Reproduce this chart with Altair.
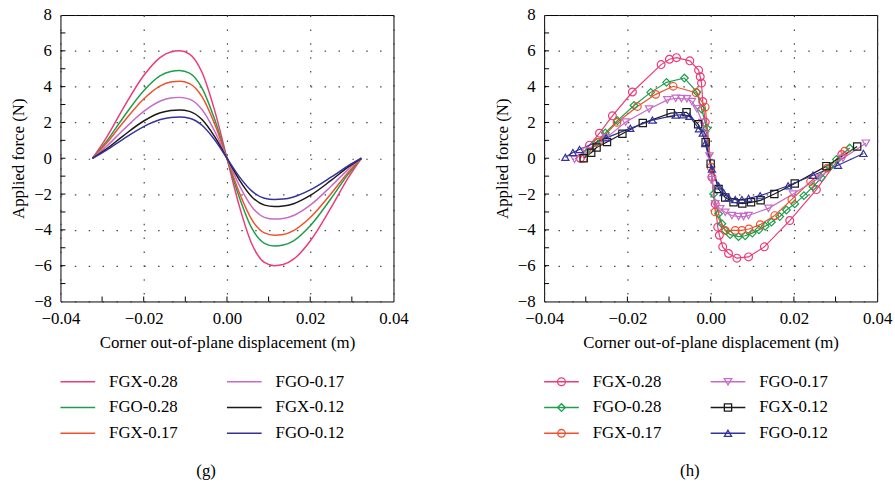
import altair as alt
import pandas as pd

FONT = "Liberation Serif"

series = ["FGX-0.28", "FGO-0.28", "FGX-0.17", "FGO-0.17", "FGX-0.12", "FGO-0.12"]
colors = ["#ec3b78", "#1d9e4b", "#f0502c", "#c56cc6", "#1a1a1a", "#33339a"]
shapes = ["circle", "diamond", "circle", "triangle-down", "square", "triangle-up"]
sizes = [62, 52, 40, 50, 30, 55]

# ---------------- panel (g): smooth curves ----------------
g_x = [-0.0323, -0.029, -0.025, -0.020, -0.016, -0.0135, -0.0114, -0.009, -0.006, -0.003, 0.0,
       0.003, 0.006, 0.009, 0.0114, 0.0135, 0.016, 0.020, 0.025, 0.029, 0.0323]
g_fgx028 = [0, 1.14, 2.76, 4.62, 5.64, 5.94, 6.0, 5.82, 4.8, 2.7, 0,
            -2.7, -4.8, -5.82, -6.0, -5.94, -5.64, -4.62, -2.76, -1.14, 0]
g_fgo028 = [0, 0.93, 2.25, 3.77, 4.61, 4.85, 4.9, 4.75, 3.92, 2.2, 0,
            -2.2, -3.92, -4.75, -4.9, -4.85, -4.61, -3.77, -2.25, -0.93, 0]
g_fgx017 = [0, 0.82, 1.98, 3.31, 4.04, 4.26, 4.3, 4.17, 3.44, 1.94, 0,
            -1.94, -3.44, -4.17, -4.3, -4.26, -4.04, -3.31, -1.98, -0.82, 0]
g_fgo017 = [0, 0.65, 1.56, 2.62, 3.2, 3.37, 3.4, 3.3, 2.72, 1.53, 0,
            -1.53, -2.72, -3.3, -3.4, -3.37, -3.2, -2.62, -1.56, -0.65, 0]
g_fgx012 = [0, 0.51, 1.24, 2.08, 2.54, 2.67, 2.7, 2.62, 2.16, 1.22, 0,
            -1.22, -2.16, -2.62, -2.7, -2.67, -2.54, -2.08, -1.24, -0.51, 0]
g_fgo012 = [0, 0.44, 1.06, 1.77, 2.16, 2.28, 2.3, 2.23, 1.84, 1.04, 0,
            -1.04, -1.84, -2.23, -2.3, -2.28, -2.16, -1.77, -1.06, -0.44, 0]

# ---------------- panel (h): measured points ----------------
h_fgx028_x = [-0.0313, -0.0291, -0.0267, -0.0236, -0.0188, -0.0119, -0.0099, -0.0082, -0.0050, -0.0029,
              -0.0025, -0.0022, -0.0019, -0.0013, 0.0003, 0.0011, 0.0017, 0.0021, 0.0029, 0.0043,
              0.0063, 0.0091, 0.0129, 0.0190, 0.0254, 0.0315]
h_fgx028_y = [0.0, 0.73, 1.40, 2.37, 3.70, 5.23, 5.53, 5.62, 5.44, 4.92,
              4.55, 4.20, 3.17, 2.02, -1.06, -2.55, -3.85, -4.30, -4.95, -5.32,
              -5.58, -5.51, -4.95, -3.48, -1.75, 0.21]

h_fgo028_x = [-0.0298, -0.0275, -0.0253, -0.0224, -0.0184, -0.0144, -0.0106, -0.0063, -0.0033, -0.0022,
              -0.0009, 0.0007, 0.0019, 0.0027, 0.0035, 0.0047, 0.0067, 0.0083, 0.0100, 0.0116,
              0.0131, 0.0146, 0.0166, 0.0182, 0.0202, 0.0224, 0.0246, 0.0266, 0.0286, 0.0302, 0.0334]
h_fgo028_y = [0.31, 0.86, 1.41, 2.10, 2.95, 3.68, 4.24, 4.48, 3.70, 2.75,
              1.67, -2.00, -3.10, -3.66, -4.03, -4.27, -4.38, -4.33, -4.18, -4.00,
              -3.80, -3.57, -3.26, -2.89, -2.55, -2.09, -1.59, -1.08, -0.49, -0.06, 0.57]

h_fgx017_x = [-0.0305, -0.0270, -0.0225, -0.0176, -0.0132, -0.0090, -0.0035, -0.0013, 0.0001, 0.0011,
              0.0035, 0.0059, 0.0075, 0.0092, 0.0119, 0.0154, 0.0195, 0.0240, 0.0280, 0.0322]
h_fgx017_y = [0.0, 0.90, 2.00, 2.89, 3.57, 4.02, 3.66, 2.86, -0.50, -3.00,
              -4.03, -4.03, -4.03, -3.95, -3.71, -3.20, -2.30, -1.30, -0.55, 0.40]

h_fgo017_x = [-0.0327, -0.0300, -0.0251, -0.0204, -0.0148, -0.0104, -0.0084, -0.0070, -0.0057, -0.0045,
              -0.0033, -0.0020, -0.0013, -0.0003, 0.0003, 0.0011, 0.0023, 0.0035, 0.0051, 0.0067,
              0.0079, 0.0091, 0.0139, 0.0198, 0.0260, 0.0318, 0.0373]
h_fgo017_y = [-0.06, 0.40, 1.14, 2.02, 2.75, 3.26, 3.35, 3.33, 3.32, 3.17,
              2.76, 2.00, 1.32, 0.12, -1.20, -2.55, -2.83, -3.02, -3.20, -3.26,
              -3.26, -3.20, -2.80, -2.00, -1.10, 0.00, 0.84]

h_fgx012_x = [-0.0305, -0.0287, -0.0274, -0.0249, -0.0212, -0.0163, -0.0096, -0.0058, -0.0030, -0.0012,
              0.0000, 0.0019, 0.0035, 0.0055, 0.0076, 0.0097, 0.0120, 0.0153, 0.0202, 0.0278, 0.0352]
h_fgx012_y = [0.0, 0.31, 0.60, 0.91, 1.37, 1.97, 2.52, 2.57, 1.90, 0.90,
              -0.30, -1.72, -2.19, -2.46, -2.53, -2.46, -2.35, -2.00, -1.41, -0.44, 0.66]

h_fgo012_x = [-0.0349, -0.0331, -0.0315, -0.0251, -0.0193, -0.0140, -0.0084, -0.0066, -0.0051, -0.0028,
              -0.0019, -0.0013, 0.0003, 0.0019, 0.0031, 0.0043, 0.0059, 0.0075, 0.0091, 0.0119,
              0.0186, 0.0246, 0.0306, 0.0367]
h_fgo012_y = [0.05, 0.32, 0.49, 1.14, 1.67, 2.13, 2.41, 2.43, 2.34, 1.65,
              1.41, 0.82, -0.60, -1.54, -1.91, -2.19, -2.31, -2.31, -2.24, -2.09,
              -1.54, -0.95, -0.39, 0.27]

x_major = [-0.04, -0.02, 0.0, 0.02, 0.04]
y_major = [-8, -6, -4, -2, 0, 2, 4, 6, 8]
x_minor = [-0.03, -0.02, -0.01, 0.0, 0.01, 0.02, 0.03]
y_minor = [-7, -6, -5, -4, -3, -2, -1, 0, 1, 2, 3, 4, 5, 6, 7]

PW, PH = 336, 289

g_df = pd.concat([
    pd.DataFrame({"x": g_x, "y": ys, "series": s})
    for s, ys in zip(series, [g_fgx028, g_fgo028, g_fgx017, g_fgo017, g_fgx012, g_fgo012])
])
h_df = pd.concat([
    pd.DataFrame({"x": xs, "y": ys, "series": s})
    for s, xs, ys in zip(series,
                         [h_fgx028_x, h_fgo028_x, h_fgx017_x, h_fgo017_x, h_fgx012_x, h_fgo012_x],
                         [h_fgx028_y, h_fgo028_y, h_fgx017_y, h_fgo017_y, h_fgx012_y, h_fgo012_y])
])

xscale = alt.Scale(domain=[-0.04, 0.04], nice=False, zero=False)
yscale = alt.Scale(domain=[-8, 8], nice=False)
color = alt.Color("series:N", scale=alt.Scale(domain=series, range=colors), legend=None)
shape = alt.Shape("series:N", scale=alt.Scale(domain=series, range=shapes), legend=None)
size = alt.Size("series:N", scale=alt.Scale(domain=series, range=sizes), legend=None)

xaxis = alt.Axis(values=x_major, format=".2f", title="Corner out-of-plane displacement (m)",
                 grid=True, ticks=False, domain=False, labelPadding=9, titlePadding=8,
                 labelFlush=False)
yaxis = alt.Axis(values=y_major, format="d", title="Applied force (N)",
                 grid=True, ticks=False, domain=False, labelPadding=9, titlePadding=6,
                 labelFlush=False)


def inner_ticks():
    tx = alt.Chart(pd.DataFrame({"t": x_minor})).mark_rule(color="black", strokeWidth=1).encode(
        x=alt.X("t:Q", scale=xscale, axis=xaxis), y=alt.value(PH), y2=alt.value(PH - 5))
    ty = alt.Chart(pd.DataFrame({"t": y_minor})).mark_rule(color="black", strokeWidth=1).encode(
        y=alt.Y("t:Q", scale=yscale, axis=yaxis), x=alt.value(0), x2=alt.value(5))
    return [tx, ty]


def legend_chart(with_markers, caption):
    leg_df = pd.DataFrame({"series": series, "col": [0, 0, 0, 1, 1, 1], "row": [0, 1, 2, 0, 1, 2]})
    base = alt.Chart(leg_df).transform_calculate(
        xe="datum.col + 35/168", xm="datum.col + 17.5/168", xt="datum.col + 49/168")
    lx = alt.Scale(domain=[0, 2], range=[0, PW], nice=False, zero=False)
    ly = alt.Scale(domain=[-0.5, 2.5], reverse=True, nice=False, zero=False)
    rule = base.mark_rule(strokeWidth=1.5).encode(
        x=alt.X("col:Q", scale=lx, axis=None), x2="xe:Q",
        y=alt.Y("row:Q", scale=ly, axis=None), color=color)
    text = base.mark_text(align="left", baseline="middle", font=FONT, fontSize=17, color="black").encode(
        x=alt.X("xt:Q", scale=lx, axis=None), y=alt.Y("row:Q", scale=ly, axis=None), text="series:N")
    layers = [rule]
    if with_markers:
        layers.append(base.mark_point(filled=False, strokeWidth=1.3, opacity=1).encode(
            x=alt.X("xm:Q", scale=lx, axis=None), y=alt.Y("row:Q", scale=ly, axis=None),
            color=color, shape=shape, size=size))
    layers.append(text)
    return alt.layer(*layers).properties(
        width=PW, height=78,
        view=alt.ViewBackground(stroke="transparent"),
        title=alt.TitleParams(caption, orient="bottom", anchor="middle", offset=17, dx=-21,
                              font=FONT, fontSize=17, fontWeight="normal", color="black"))


g_lines = alt.Chart(g_df).mark_line(strokeWidth=1.5, interpolate="monotone").encode(
    x=alt.X("x:Q", scale=xscale, axis=xaxis),
    y=alt.Y("y:Q", scale=yscale, axis=yaxis),
    color=color)
g_panel = alt.layer(g_lines, *inner_ticks()).properties(
    width=PW, height=PH, view=alt.ViewBackground(stroke="black", strokeWidth=1))

h_base = alt.Chart(h_df).encode(
    x=alt.X("x:Q", scale=xscale, axis=xaxis),
    y=alt.Y("y:Q", scale=yscale, axis=yaxis),
    color=color)
h_lines = h_base.mark_line(strokeWidth=1.2)
h_points = h_base.mark_point(filled=False, strokeWidth=1.2, opacity=1).encode(shape=shape, size=size)
h_panel = alt.layer(h_lines, h_points, *inner_ticks()).properties(
    width=PW, height=PH, view=alt.ViewBackground(stroke="black", strokeWidth=1))

left = alt.vconcat(g_panel, legend_chart(False, "(g)"), spacing=17)
right = alt.vconcat(h_panel, legend_chart(True, "(h)"), spacing=17)

chart = alt.hconcat(left, right, spacing=84).properties(
    padding={"left": 9, "right": 2, "top": 3, "bottom": 2}
).configure_axis(
    labelFont=FONT, titleFont=FONT, labelFontSize=17, titleFontSize=17,
    titleFontWeight="normal", labelColor="black", titleColor="black",
    gridColor="#333333", gridDash=[1.5, 12.5], gridWidth=1.2, gridOpacity=0.9
).configure_view(stroke="black")

chart.save("out.html", embed_options={"renderer": "svg", "actions": False})
